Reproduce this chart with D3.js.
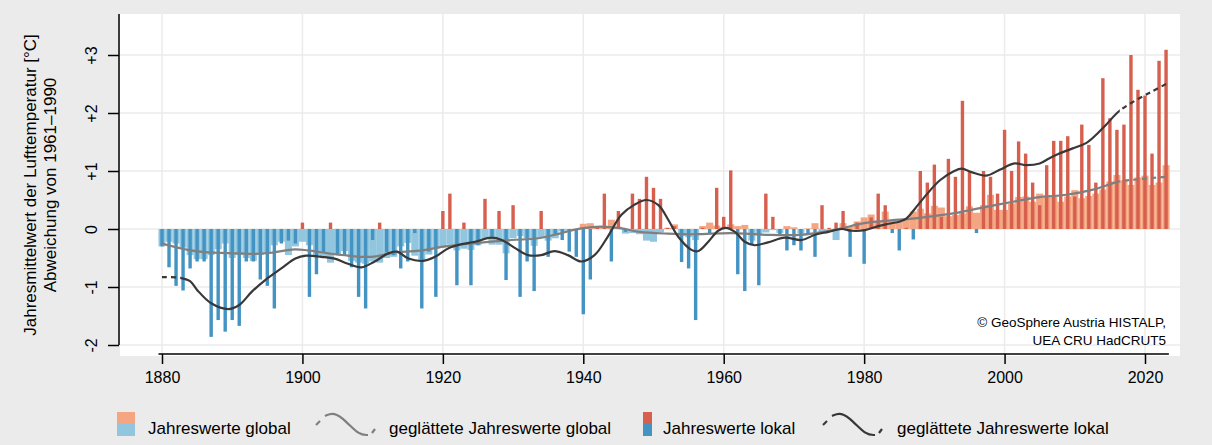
<!DOCTYPE html>
<html>
<head>
<meta charset="utf-8">
<script src="https://cdn.jsdelivr.net/npm/d3@7"></script>
<style>
  body { margin: 0; background: #ebebeb; }
  svg { display: block; font-family: "Liberation Sans", Arial, sans-serif; }
</style>
</head>
<body>
<svg id="chart" width="1212" height="445"></svg>
<script>
// Annual mean air temperature anomalies relative to 1961–1990 (°C)
const firstYear = 1880;

const localValues = [
  -0.30, -0.66, -0.98, -1.06, -0.68, -0.56, -0.56, -1.86, -1.57, -1.77,
  -1.57, -1.67, -0.56, -0.56, -0.87, -0.98, -1.37, -0.25, -0.20, -0.25,
   0.11, -1.17, -0.78, -0.40,  0.11, -0.45, -0.45, -0.66, -1.17, -1.37,
  -0.19,  0.11, -0.40, -0.45, -0.68, -0.56, -0.07, -1.37, -0.39, -1.17,
   0.31,  0.61, -0.97,  0.11, -0.97, -0.28,  0.52, -0.13,  0.31, -0.88,
   0.41, -1.17, -0.56, -1.07,  0.31, -0.48, -0.10, -0.19, -0.39, -0.48,
  -1.47, -0.87,  0.02,  0.61, -0.56,  0.31, -0.05,  0.61,  0.52,  0.90,
   0.71,  0.52,  0.02,  0.05, -0.57, -0.68, -1.57,  0.02, -0.07,  0.71,
   0.21,  1.01, -0.78, -1.07, -0.28, -0.97,  0.61,  0.21, -0.09, -0.37,
  -0.28, -0.37, -0.10, -0.48,  0.41,  0.02,  0.11,  0.31, -0.48,  0.11,
  -0.60,  0.20,  0.61,  0.41, -0.07, -0.37,  0.02, -0.18,  1.00,  0.80,
   1.11,  0.21,  1.21,  0.90,  2.21,  0.99, -0.07,  1.00,  0.90,  0.61,
   1.71,  1.00,  1.51,  1.30,  0.80,  0.41,  1.10,  1.52,  1.52,  1.60,
   0.56,  1.80,  1.45,  0.80,  2.60,  1.91,  1.71,  1.80,  3.00,  2.40,
   2.30,  1.30,  2.90,  3.09
];

const globalValues = [
  -0.30, -0.22, -0.25, -0.32, -0.45, -0.52, -0.52, -0.45, -0.35, -0.25,
  -0.50, -0.45, -0.50, -0.55, -0.45, -0.42, -0.28, -0.22, -0.45, -0.30,
  -0.22, -0.28, -0.45, -0.50, -0.58, -0.45, -0.38, -0.55, -0.58, -0.60,
  -0.56, -0.58, -0.50, -0.48, -0.30, -0.24, -0.46, -0.56, -0.44, -0.34,
  -0.32, -0.27, -0.37, -0.34, -0.36, -0.28, -0.17, -0.27, -0.27, -0.42,
  -0.16, -0.12, -0.16, -0.29, -0.15, -0.20, -0.16, -0.04, -0.03, -0.02,
   0.09,  0.10,  0.04,  0.05,  0.16,  0.04, -0.08, -0.07, -0.09, -0.20,
  -0.22, -0.06,  0.02,  0.08, -0.12, -0.14, -0.19,  0.05,  0.11,  0.06,
   0.03,  0.08,  0.05,  0.07, -0.20, -0.11, -0.06, -0.02, -0.07,  0.05,
   0.03, -0.08,  0.01,  0.10, -0.07, -0.01, -0.19,  0.10,  0.04,  0.13,
   0.20,  0.25,  0.14,  0.30,  0.16,  0.12,  0.18,  0.30,  0.35,  0.27,
   0.40,  0.37,  0.22,  0.24,  0.27,  0.39,  0.28,  0.41,  0.59,  0.33,
   0.33,  0.44,  0.55,  0.56,  0.47,  0.61,  0.58,  0.56,  0.47,  0.56,
   0.67,  0.53,  0.57,  0.61,  0.68,  0.82,  0.93,  0.84,  0.76,  0.89,
   0.92,  0.76,  0.80,  1.10
];

// Smoothed series (sampled along the curve)
const smoothLocalYears = [1880, 1882.5, 1884, 1885, 1887, 1889.5, 1891, 1892.8, 1894.7, 1897, 1899, 1900.5,
  1902.7, 1904.6, 1906.5, 1908.4, 1910.3, 1912.2, 1913.5, 1915.1, 1917.2, 1918.9, 1920.8, 1922.7, 1924.6,
  1926.9, 1928.4, 1930.3, 1932.1, 1934, 1935.9, 1937.8, 1939.7, 1941.6, 1943.5, 1945.4, 1947.3, 1949,
  1950.7, 1952.1, 1953.5, 1955.4, 1956.4, 1957.8, 1959.2, 1960.3, 1961.6, 1963, 1964.4, 1966.3, 1968.7,
  1971.1, 1973, 1974.9, 1976.8, 1978.2, 1980.1, 1982, 1983.5, 1985.1, 1986, 1987.5, 1989, 1990.8, 1992.7,
  1993.9, 1995.3, 1997.4, 1999.3, 2001.4, 2003.1, 2005, 2006.4, 2007.8, 2009.7, 2011.6, 2013, 2014.4,
  2016.3, 2018.7, 2021, 2023];
const smoothLocal = [-0.83, -0.84, -0.90, -1.05, -1.28, -1.38, -1.31, -1.08, -0.88, -0.68, -0.51, -0.46,
  -0.48, -0.51, -0.60, -0.66, -0.56, -0.42, -0.39, -0.51, -0.55, -0.48, -0.33, -0.26, -0.22,
  -0.15, -0.19, -0.33, -0.45, -0.45, -0.38, -0.45, -0.56, -0.45, -0.13, 0.24, 0.42, 0.50,
  0.41, 0.16, -0.13, -0.36, -0.38, -0.22, -0.03, 0.02, -0.05, -0.22, -0.28, -0.23, -0.15,
  -0.19, -0.10, -0.05, 0.00, -0.03, -0.02, 0.05, 0.09, 0.13, 0.18, 0.39, 0.61, 0.84, 0.99,
  1.04, 0.98, 0.92, 1.02, 1.13, 1.10, 1.13, 1.22, 1.30, 1.39, 1.48, 1.62, 1.79,
  2.03, 2.22, 2.37, 2.50];

const smoothGlobalYears = [1880, 1883.7, 1886.1, 1890.9, 1893.2, 1895.6, 1898.9, 1900.8, 1903.7, 1906.5,
  1909.8, 1913.5, 1917, 1920.3, 1925, 1929.8, 1933.6, 1936.9, 1939.7, 1942.6, 1945.4, 1948, 1952, 1956,
  1961, 1966, 1971, 1975.5, 1980, 1982, 1985, 1989, 1992.7, 1996.5, 2001.2, 2005, 2008.8, 2012.6, 2016.4,
  2019.3, 2023];
const smoothGlobal = [-0.25, -0.36, -0.40, -0.42, -0.43, -0.41, -0.35, -0.37, -0.42, -0.46,
  -0.48, -0.40, -0.37, -0.30, -0.24, -0.19, -0.16, -0.07, 0.01, 0.04, 0.01, -0.05, -0.08, -0.09,
  -0.07, -0.10, -0.10, -0.02, 0.10, 0.13, 0.16, 0.21, 0.27, 0.36, 0.47, 0.55, 0.59, 0.68, 0.82,
  0.86, 0.90];

// Years where the smoothed curves are drawn solid (dashed outside)
const solidLocal = [1882.6, 2016.4];
const solidGlobal = [1880, 2016.4];

const xTicks = [1880, 1900, 1920, 1940, 1960, 1980, 2000, 2020];
const yTicks = [-2, -1, 0, 1, 2, 3];
const yTickLabels = ["-2", "-1", "0", "+1", "+2", "+3"];

const yTitle = ["Jahresmittelwert der Lufttemperatur [°C]", "Abweichung von 1961–1990"];
const sourceNote = ["© GeoSphere Austria HISTALP,", "UEA CRU HadCRUT5"];
const legendLabels = ["Jahreswerte global", "geglättete Jahreswerte global", "Jahreswerte lokal", "geglättete Jahreswerte lokal"];

const col = {
  globalPos: "#f4a582", globalNeg: "#92c5de",
  localPos: "#d6604d", localNeg: "#4393c3",
  smoothGlobal: "#7f7f7f", smoothLocal: "#383838",
  grid: "#ebebeb", panel: "#ffffff", axis: "#000000"
};

const svg = d3.select("#chart");
const panel = { left: 120, top: 14, right: 1180, bottom: 356 };

const x = d3.scaleLinear().domain([1880, 2020]).range([162, 1145]);
const y = d3.scaleLinear().domain([-2, 3]).range([345, 55]);
const yearW = x(1881) - x(1880);

const years = localValues.map((_, i) => firstYear + i);

// panel background
svg.append("rect")
  .attr("x", panel.left).attr("y", panel.top)
  .attr("width", panel.right - panel.left).attr("height", panel.bottom - panel.top)
  .attr("fill", col.panel);

// grid
const grid = svg.append("g").attr("stroke", col.grid).attr("stroke-width", 1.5);
grid.selectAll("line.h").data(yTicks).join("line")
  .attr("x1", panel.left).attr("x2", panel.right)
  .attr("y1", d => y(d)).attr("y2", d => y(d));
grid.selectAll("line.v").data(xTicks).join("line")
  .attr("y1", panel.top).attr("y2", panel.bottom)
  .attr("x1", d => x(d)).attr("x2", d => x(d));

// global annual bars (wide, light)
svg.append("g").selectAll("rect").data(years).join("rect")
  .attr("x", (d) => x(d) - yearW / 2)
  .attr("width", yearW)
  .attr("y", (d, i) => y(Math.max(0, globalValues[i])))
  .attr("height", (d, i) => Math.abs(y(globalValues[i]) - y(0)))
  .attr("fill", (d, i) => globalValues[i] >= 0 ? col.globalPos : col.globalNeg);

// local annual bars (narrow, saturated)
const localW = 3.4;
svg.append("g").selectAll("rect").data(years).join("rect")
  .attr("x", (d) => x(d) - localW / 2)
  .attr("width", localW)
  .attr("y", (d, i) => y(Math.max(0, localValues[i])))
  .attr("height", (d, i) => Math.abs(y(localValues[i]) - y(0)))
  .attr("fill", (d, i) => localValues[i] >= 0 ? col.localPos : col.localNeg);

// smoothed curves: solid inside the reliable range, dashed at the ends
const defs = svg.append("defs");
function addClip(id, x0, x1) {
  defs.append("clipPath").attr("id", id).append("rect")
    .attr("x", x0).attr("y", 0).attr("width", x1 - x0).attr("height", 445);
}
function drawSmooth(yearsArr, vals, range, color, key) {
  const pts = yearsArr.map((yr, i) => [x(yr), y(vals[i])]);
  const line = d3.line().curve(d3.curveCatmullRom.alpha(0.5));
  const xs0 = x(range[0]), xs1 = x(range[1]);
  addClip(key + "-solid", xs0, xs1);
  addClip(key + "-dashL", 0, xs0);
  addClip(key + "-dashR", xs1, 1212);
  const g = svg.append("g").attr("fill", "none").attr("stroke", color)
    .attr("stroke-width", 2.2).attr("stroke-linecap", "butt");
  g.append("path").attr("d", line(pts)).attr("clip-path", `url(#${key}-solid)`);
  ["dashL", "dashR"].forEach(s => {
    g.append("path").attr("d", line(pts)).attr("clip-path", `url(#${key}-${s})`)
      .attr("stroke-dasharray", "5,4");
  });
}
drawSmooth(smoothGlobalYears, smoothGlobal, solidGlobal, col.smoothGlobal, "sg");
drawSmooth(smoothLocalYears, smoothLocal, solidLocal, col.smoothLocal, "sl");

// axes
const yAxis = d3.axisLeft(y).tickValues(yTicks).tickSize(11).tickFormat((d, i) => yTickLabels[i]);
const gy = svg.append("g").attr("transform", `translate(${panel.left - 1},0)`).call(yAxis);
gy.selectAll(".tick line").attr("stroke-width", 1.5);
gy.selectAll(".tick text")
  .attr("transform", "rotate(-90)")
  .attr("x", 0).attr("y", -22).attr("dy", 0)
  .attr("text-anchor", "middle")
  .attr("font-size", 16).attr("font-family", "Liberation Sans, Arial, sans-serif").attr("fill", "#000");
gy.select(".domain").attr("d", `M0,${panel.top}V${y(-2)}`).attr("stroke-width", 1.5);

const xAxis = d3.axisBottom(x).tickValues(xTicks).tickSize(10).tickFormat(d3.format("d"));
const gx = svg.append("g").attr("transform", `translate(0,354)`).call(xAxis);
gx.select(".domain").attr("d", `M${x(1879.5)},0H${x(2023.4)}`).attr("stroke-width", 1.5);
gx.selectAll(".tick line").attr("stroke-width", 1.5);
gx.selectAll(".tick text").attr("y", 24).attr("dy", "0.32em")
  .attr("font-size", 16).attr("font-family", "Liberation Sans, Arial, sans-serif").attr("fill", "#000");

// axis title
const ty = svg.append("g").attr("font-size", 17).attr("text-anchor", "middle");
yTitle.forEach((t, i) => {
  ty.append("text").attr("transform", `translate(${36 + i * 20},185) rotate(-90)`).text(t);
});

// source note
const sn = svg.append("g").attr("font-size", 13.5).attr("text-anchor", "end");
sourceNote.forEach((t, i) => {
  sn.append("text").attr("x", 1166).attr("y", 327 + i * 18).text(t);
});

// legend
const lg = svg.append("g").attr("font-size", 17);
const lgY = 434;
// global swatch
lg.append("rect").attr("x", 117).attr("y", 412).attr("width", 18).attr("height", 12).attr("fill", col.globalPos);
lg.append("rect").attr("x", 117).attr("y", 424).attr("width", 18).attr("height", 12).attr("fill", col.globalNeg);
lg.append("text").attr("x", 148).attr("y", lgY).text(legendLabels[0]);
// local swatch
lg.append("rect").attr("x", 643).attr("y", 412).attr("width", 9).attr("height", 12).attr("fill", col.localPos);
lg.append("rect").attr("x", 643).attr("y", 424).attr("width", 9).attr("height", 12).attr("fill", col.localNeg);
lg.append("text").attr("x", 663).attr("y", lgY).text(legendLabels[2]);

function legendCurve(x0, color) {
  const g = lg.append("g").attr("fill", "none").attr("stroke", color).attr("stroke-width", 2.2);
  g.append("path").attr("d", `M${x0},${425}L${x0 + 4},${421}`);
  const pts = [[x0 + 9, 416], [x0 + 18, 412], [x0 + 30, 421], [x0 + 43, 435], [x0 + 52, 435]];
  g.append("path").attr("d", d3.line().curve(d3.curveBasis)(pts));
  g.append("path").attr("d", `M${x0 + 56},${433}L${x0 + 59},${429}`);
}
legendCurve(316, col.smoothGlobal);
lg.append("text").attr("x", 389).attr("y", lgY).text(legendLabels[1]);
legendCurve(823, col.smoothLocal);
lg.append("text").attr("x", 897).attr("y", lgY).text(legendLabels[3]);
</script>
</body>
</html>
